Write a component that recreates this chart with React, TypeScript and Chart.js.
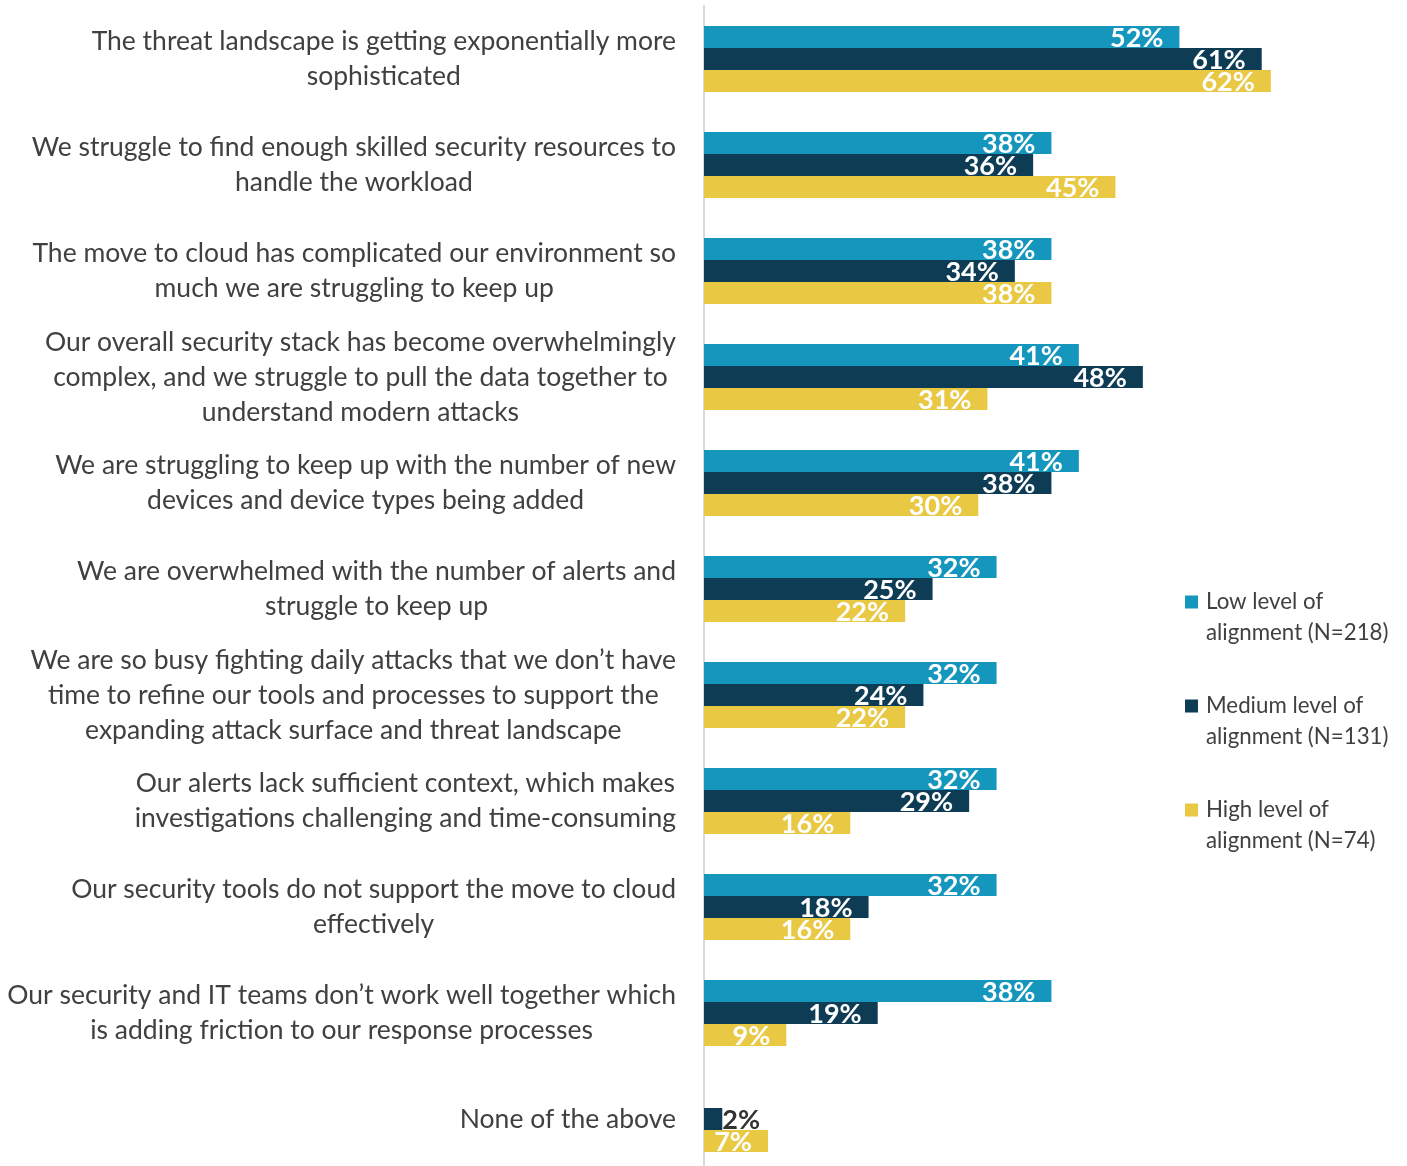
import React, { useEffect, useRef } from "react";
import { Chart, registerables } from "chart.js";

Chart.register(...registerables);

const categoryLines: string[][] = [
  ["The threat landscape is getting exponentially more", "sophisticated"],
  ["We struggle to find enough skilled security resources to", "handle the workload"],
  ["The move to cloud has complicated our environment so", "much we are struggling to keep up"],
  ["Our overall security stack has become overwhelmingly", "complex, and we struggle to pull the data together to", "understand modern attacks"],
  ["We are struggling to keep up with the number of new", "devices and device types being added"],
  ["We are overwhelmed with the number of alerts and", "struggle to keep up"],
  ["We are so busy fighting daily attacks that we don’t have", "time to refine our tools and processes to support the", "expanding attack surface and threat landscape"],
  ["Our alerts lack sufficient context, which makes", "investigations challenging and time-consuming"],
  ["Our security tools do not support the move to cloud", "effectively"],
  ["Our security and IT teams don’t work well together which", "is adding friction to our response processes"],
  ["None of the above"],
];

const lowValues = [52, 38, 38, 41, 41, 32, 32, 32, 32, 38, 0];
const mediumValues = [61, 36, 34, 48, 38, 25, 24, 29, 18, 19, 2];
const highValues = [62, 45, 38, 31, 30, 22, 22, 16, 16, 9, 7];

const seriesNames = [
  "Low level of alignment (N=218)",
  "Medium level of alignment (N=131)",
  "High level of alignment (N=74)",
];
const legendLines: string[][] = [
  ["Low level of", "alignment (N=218)"],
  ["Medium level of", "alignment (N=131)"],
  ["High level of", "alignment (N=74)"],
];
const seriesColors = ["#1596bd", "#0f3c55", "#e9c843"];

const FONT = "Lato, 'Open Sans', sans-serif";
const TEXT_COLOR = "#404040";

const categoryLabelPlugin = {
  id: "categoryLabels",
  afterDraw(chart: any) {
    const ctx = chart.ctx;
    const yScale = chart.scales.y;
    const rightEdge = chart.chartArea.left - 28;
    const lineHeight = 35;
    ctx.save();
    ctx.font = `26.5px ${FONT}`;
    ctx.fillStyle = TEXT_COLOR;
    ctx.textAlign = "center";
    ctx.textBaseline = "middle";
    categoryLines.forEach((lines, i) => {
      const yc = yScale.getPixelForValue(i);
      const maxW = Math.max(...lines.map((l) => ctx.measureText(l).width));
      const xc = rightEdge - maxW / 2;
      lines.forEach((line, j) => {
        ctx.fillText(line, xc, yc + (j - (lines.length - 1) / 2) * lineHeight);
      });
    });
    ctx.restore();
  },
};

const valueLabelPlugin = {
  id: "valueLabels",
  afterDatasetsDraw(chart: any) {
    const ctx = chart.ctx;
    ctx.save();
    ctx.font = `bold 27px ${FONT}`;
    ctx.textBaseline = "alphabetic";
    chart.data.datasets.forEach((ds: any, di: number) => {
      const meta = chart.getDatasetMeta(di);
      meta.data.forEach((bar: any, i: number) => {
        const v = ds.data[i];
        if (!v) return;
        const text = `${v}%`;
        const w = ctx.measureText(text).width;
        const barLen = bar.x - bar.base;
        const baseY = bar.y + bar.height / 2 - 1;
        if (barLen > w + 18) {
          ctx.fillStyle = "#ffffff";
          ctx.textAlign = "right";
          ctx.fillText(text, bar.x - 16, baseY);
        } else {
          ctx.fillStyle = "#333333";
          ctx.textAlign = "left";
          ctx.fillText(text, bar.x, baseY);
        }
      });
    });
    ctx.restore();
  },
};

const legendPlugin = {
  id: "customLegend",
  afterDraw(chart: any) {
    const ctx = chart.ctx;
    const x0 = 1185;
    const y0 = 602;
    const itemGap = 104;
    const lineGap = 31;
    ctx.save();
    ctx.font = `22.3px ${FONT}`;
    ctx.textBaseline = "middle";
    ctx.textAlign = "left";
    legendLines.forEach((lines, i) => {
      const y = y0 + i * itemGap;
      ctx.fillStyle = seriesColors[i];
      ctx.fillRect(x0, y - 6.5, 13, 13);
      ctx.fillStyle = TEXT_COLOR;
      lines.forEach((line, j) => {
        ctx.fillText(line, x0 + 21, y + j * lineGap);
      });
    });
    ctx.restore();
  },
};

export default function App() {
  const canvasRef = useRef<HTMLCanvasElement | null>(null);

  useEffect(() => {
    if (!canvasRef.current) return;
    const chart = new Chart(canvasRef.current, {
      type: "bar",
      data: {
        labels: categoryLines.map((l) => l.join(" ")),
        datasets: [
          { label: seriesNames[0], data: lowValues, backgroundColor: seriesColors[0] },
          { label: seriesNames[1], data: mediumValues, backgroundColor: seriesColors[1] },
          { label: seriesNames[2], data: highValues, backgroundColor: seriesColors[2] },
        ],
      },
      options: {
        indexAxis: "y",
        responsive: false,
        animation: false,
        devicePixelRatio: 1,
        layout: { padding: { left: 704, right: 63, top: 6, bottom: 0 } },
        datasets: { bar: { categoryPercentage: 66 / 106, barPercentage: 1, borderWidth: 0 } },
        scales: {
          x: { display: false, min: 0, max: 70 },
          y: {
            ticks: { display: false },
            grid: { display: false, drawTicks: false },
            border: { display: true, color: "#d9d9d9", width: 2 },
          },
        },
        plugins: {
          legend: { display: false },
          tooltip: { enabled: false },
        },
      },
      plugins: [categoryLabelPlugin, valueLabelPlugin, legendPlugin],
    });
    return () => chart.destroy();
  }, []);

  return (
    <div style={{ position: "fixed", left: 0, top: 0, width: 1407, height: 1166, overflow: "hidden", background: "#ffffff" }}>
      <canvas ref={canvasRef} width={1407} height={1172} style={{ display: "block" }} />
    </div>
  );
}
